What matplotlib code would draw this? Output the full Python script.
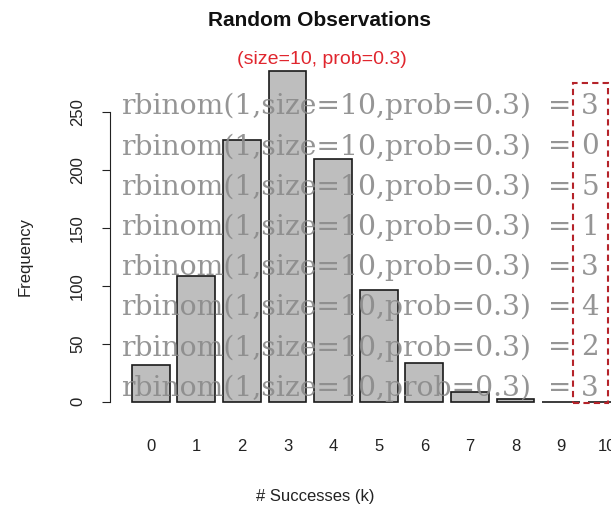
import numpy as np
import matplotlib.pyplot as plt
from matplotlib.patches import Rectangle

# ── data ──────────────────────────────────────────────────────────────────────
successes = list(range(11))
frequency = [32, 108, 226, 285, 209, 96, 33, 8, 2, 0, 0]
draws     = [3, 0, 5, 1, 3, 4, 2, 3]          # rbinom(1, size=10, prob=0.3)
y_ticks   = [0, 50, 100, 150, 200, 250]

W, H = 611, 509
fig = plt.figure(figsize=(W / 100, H / 100), dpi=100)
plt.rcParams['font.family'] = ['Liberation Sans', 'DejaVu Sans']

# axes spans px x 110..611, y 65..415 (from top)
ax = fig.add_axes([110 / W, 1 - 415 / H, (W - 110) / W, 350 / H])
px_per_unit = 1.16
px_per_bar = 45.6
ax.set_ylim(-(415 - 401.7) / px_per_unit, 250 + (111.7 - 65) / px_per_unit)
ax.set_xlim(-(150.7 - 110) / px_per_bar, 10 + (611 - 606.7) / px_per_bar)

ax.bar(successes, frequency, width=0.833, color='#bebebe',
       edgecolor='#1a1a1a', linewidth=1.2, zorder=1)

for s in ['top', 'right', 'bottom']:
    ax.spines[s].set_visible(False)
ax.spines['left'].set_bounds(0, 250)
ax.spines['left'].set_color('#222222')
ax.set_yticks(y_ticks)
ax.set_yticklabels([str(t) for t in y_ticks], rotation=90, va='center',
                   fontsize=12, color='#222222')
ax.tick_params(axis='y', length=6, pad=12, color='#222222')
ax.set_xticks(successes)
ax.set_xticklabels([str(k) for k in successes], fontsize=12, color='#222222')
ax.tick_params(axis='x', length=0, pad=17)

fig.text(25 / W, 1 - 257 / H, 'Frequency', rotation=90, ha='center',
         va='center', fontsize=12, color='#222222')
fig.text(315 / W, 1 - 496 / H, '# Successes (k)', ha='center', va='center',
         fontsize=12, color='#222222')

fig.text(320 / W, 1 - 20 / H, 'Random Observations', ha='center', va='center',
         fontsize=15, fontweight='bold', color='#111111')
fig.text(322 / W, 1 - 59 / H, '(size=10, prob=0.3)', ha='center', va='center',
         fontsize=14, color='#e0262e')

# overlaid rbinom output lines
for i, d in enumerate(draws):
    ypx = 106.7 + i * 40.2
    fig.text(121 / W, 1 - ypx / H, 'rbinom(1,size=10,prob=0.3)', ha='left',
             va='center', fontsize=20.3, family='DejaVu Serif',
             color='#8a8a8a', alpha=0.9)
    fig.text(560 / W, 1 - ypx / H, '=', ha='center', va='center', fontsize=20,
             family='DejaVu Serif', color='#8a8a8a', alpha=0.9)
    fig.text(590 / W, 1 - ypx / H, str(d), ha='center', va='center', fontsize=20,
             family='DejaVu Serif', color='#8a8a8a', alpha=0.9)

# dashed box round the results column
fig.patches.append(Rectangle((573 / W, 1 - 403 / H), 35 / W, 320 / H,
                             transform=fig.transFigure, fill=False,
                             edgecolor='#b5232a', linestyle=(0, (3, 2)),
                             linewidth=1.5))

plt.savefig('out.png', dpi=100)
